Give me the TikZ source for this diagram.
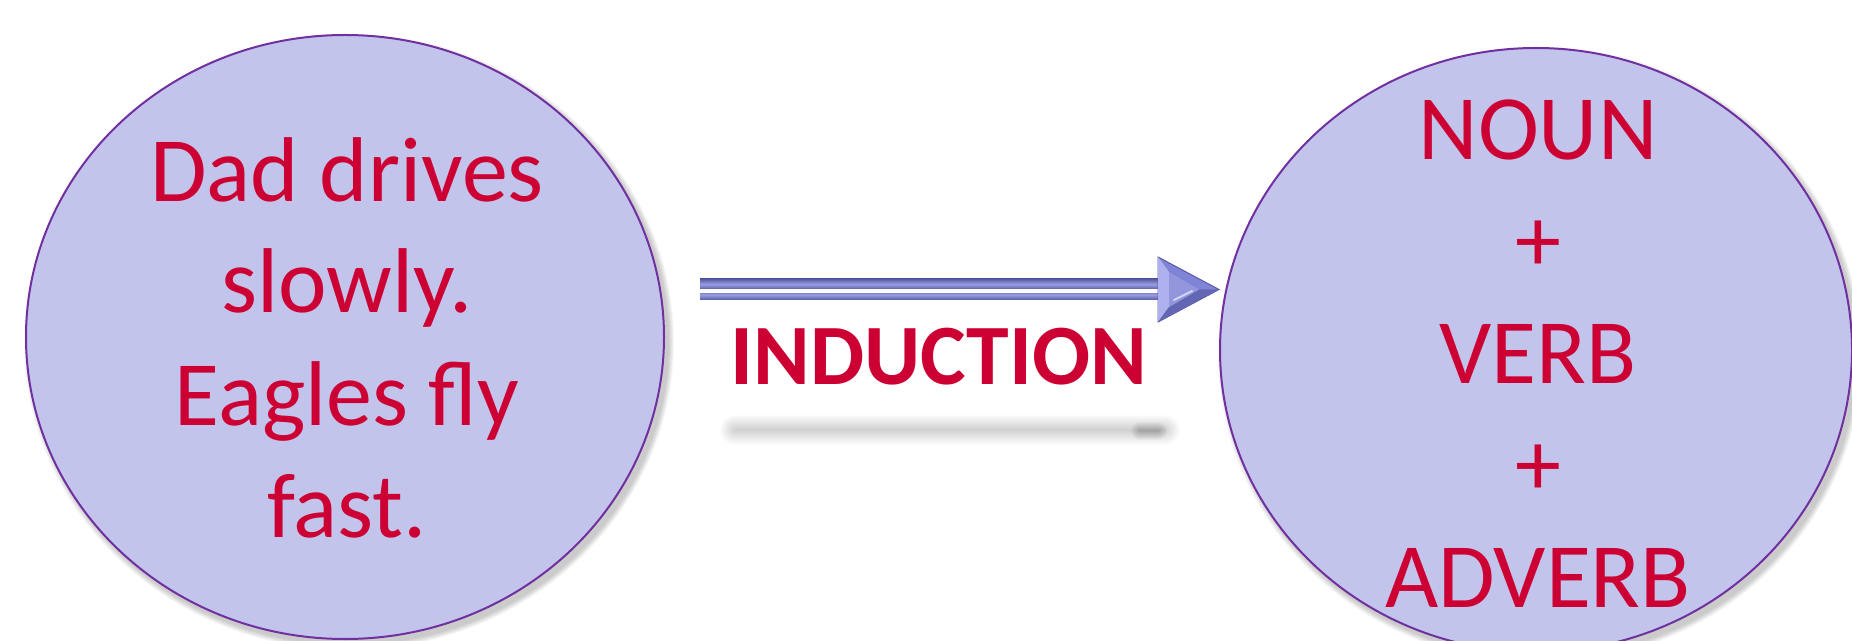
\documentclass[tikz,border=0pt]{standalone}
\usepackage{fontspec}
\setmainfont{Carlito}
\usetikzlibrary{shapes.geometric}
\definecolor{blobfill}{RGB}{195,196,236}
\definecolor{blobline}{RGB}{112,48,160}
\definecolor{txtred}{RGB}{204,0,51}
\definecolor{arrdark}{RGB}{86,90,164}
\definecolor{arrmid}{RGB}{128,132,214}
\definecolor{arrlight}{RGB}{186,189,244}
\tikzset{
  blob/.style={ellipse, draw=blobline, line width=1pt, fill=blobfill, inner sep=0pt},
  blobshadow/.style={ellipse, fill=black, fill opacity=0.035, draw=none, inner sep=0pt},
  wordtext/.style={text=txtred, align=center, font=\fontsize{46}{56}\selectfont, anchor=base, inner sep=0pt},
  boldtext/.style={text=txtred, font=\bfseries\fontsize{43}{52}\selectfont, anchor=base, inner sep=0pt},
  softline/.style={line cap=round, draw=black, draw opacity=0.012},
  shaftbar/.style={top color=arrdark, bottom color=arrdark, middle color=arrmid!55!arrlight},
}
\begin{document}
\begin{tikzpicture}[x=0.5pt,y=-0.5pt]
\useasboundingbox[fill=white] (0,0) rectangle (1852,641);
% soft shadows of the two ellipses
\foreach \d in {1,...,6}{
  \node[blobshadow, minimum width={319pt+\d*1pt}, minimum height={302pt+\d*1pt}] (ls\d) at (349,342) {};
  \node[blobshadow, minimum width={316pt+\d*1pt}, minimum height={302pt+\d*1pt}] (rs\d) at (1540,355) {};
}
% ellipses
\node[blob, minimum width=319pt, minimum height=302pt] (L) at (345,337) {};
\node[blob, minimum width=316pt, minimum height=302pt] (R) at (1536,350) {};
% texts (anchor = baseline of the last line)
\node[wordtext] (Ltext) at (347,537) {Dad drives\\slowly.\\Eagles fly\\fast.};
\node[wordtext] (Rtext) at (1538,607) {NOUN\\+\\VERB\\+\\ADVERB};
% shadow under the arrow
\foreach \w in {2,4,...,30}{
  \draw[softline, line width=\w*0.5pt] (735,430) -- (1165,430);
}
\foreach \w in {2,4,...,18}{
  \draw[softline, line width=\w*0.5pt, draw opacity=0.022] (1140,431) -- (1158,431);
}
% arrow
\coordinate (start) at (700,289.5);
\coordinate (tip) at (1219,289.5);
\shade[shaftbar] (start) ++(0,-10.5) rectangle (1162,289);
\shade[shaftbar] (start) ++(0,4.5) rectangle (1162,300);
\fill[arrmid, draw=arrdark, line width=0.5pt] (1158,257) -- (tip) -- (1158,322) -- cycle;
\fill[arrlight!80!arrmid] (1158,257) -- (1169,272) -- (1169,307) -- (1158,322) -- cycle;
\fill[arrdark!70!arrmid] (1158,322) -- (1169,307) -- (1199,289.5) -- (tip) -- cycle;
\fill[arrmid!85!white] (1169,272) -- (1199,289.5) -- (1169,307) -- cycle;
\draw[white, opacity=0.6, line width=1pt, line cap=round] (1174,300) -- (1192,291);
% label
\node[boldtext] (ind) at (939,385) {INDUCTION};
\end{tikzpicture}
\end{document}
